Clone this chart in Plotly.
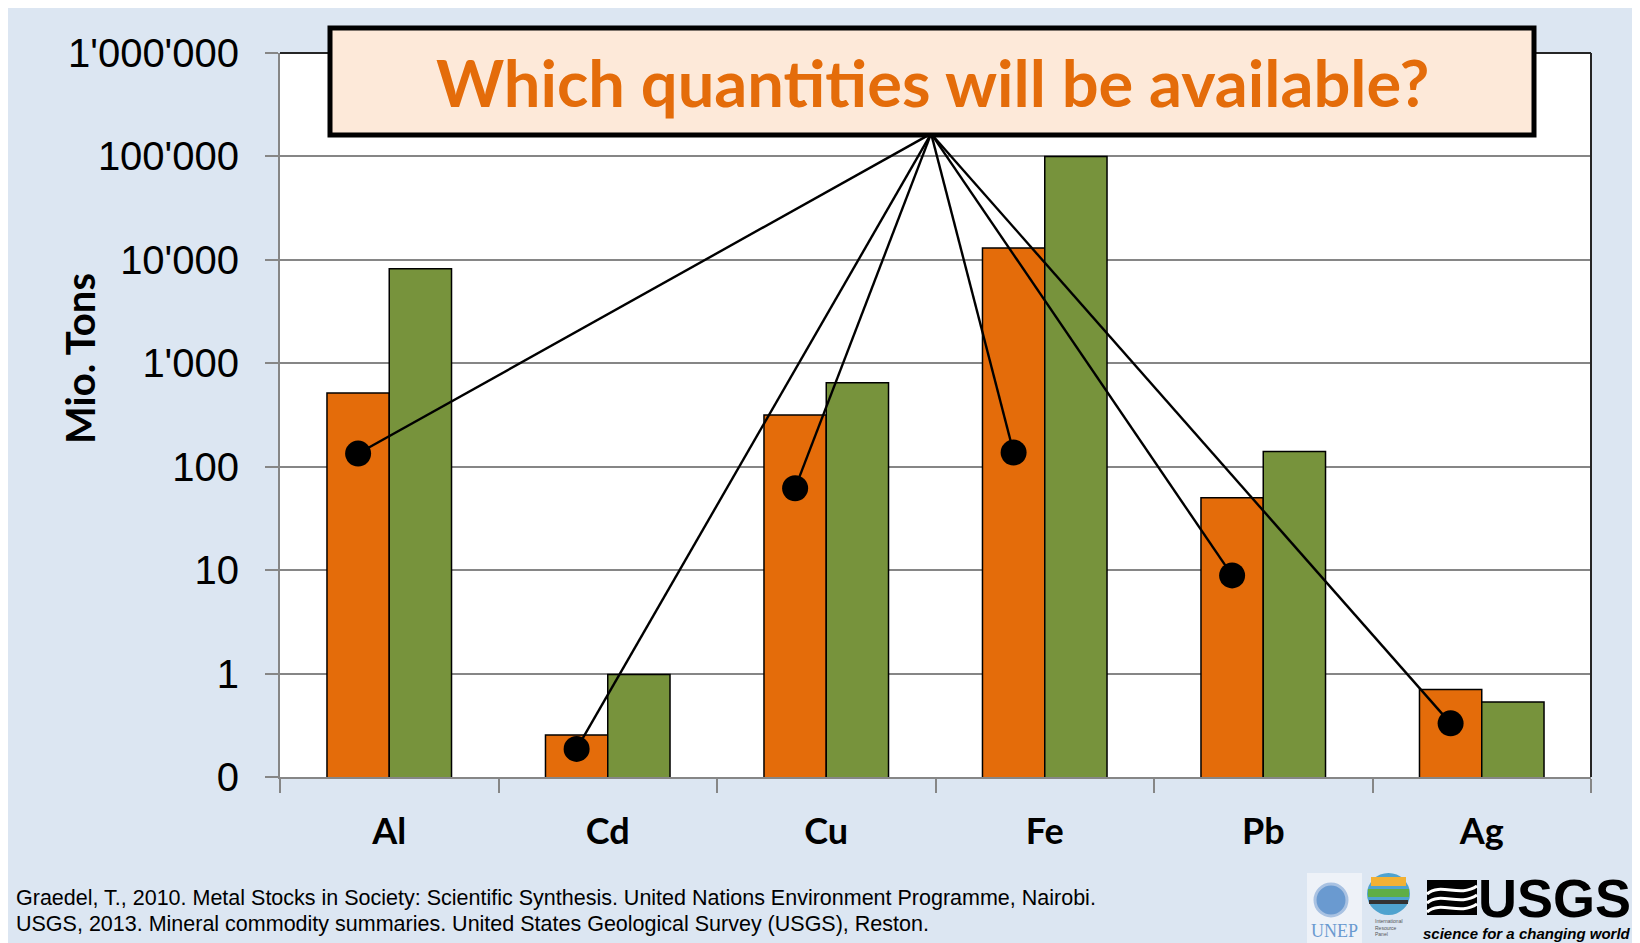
import plotly.graph_objects as go

# Metal stocks in use vs. reserves/resources (Mio. tons, log scale)
metals = ["Al", "Cd", "Cu", "Fe", "Pb", "Ag"]
orange_vals = [515, 0.255, 316, 13000, 50, 0.70]
green_vals = [8200, 0.98, 650, 100000, 140, 0.53]
dot_vals = [134, 0.187, 62, 137, 8.9, 0.33]

tick_vals = [0.1, 1, 10, 100, 1000, 10000, 100000, 1000000]
tick_text = ["0", "1", "10", "100", "1'000", "10'000", "100'000", "1'000'000"]

ORANGE = "#E46C0A"
GREEN = "#77933C"
GRID = "#868686"

W, H = 1640, 943
L, R, T, B = 272, 57, 45, 174
OFF = 8  # page body margin
BARGAP = 0.43


def px(x):
    """Screen pixel x -> paper x."""
    return (x - OFF - L) / (W - L - R)


def py(y):
    """Screen pixel y -> paper y."""
    return (H - B - (y - OFF)) / (H - T - B)


xs = list(range(len(metals)))
dot_x = [i - (1 - BARGAP) / 4 for i in xs]

# apex of the pointer lines: bottom centre of the question box
apex_x, apex_y = 2.48, 10 ** 5.22
line_x, line_y = [], []
for x, v in zip(dot_x, dot_vals):
    line_x += [apex_x, x, None]
    line_y += [apex_y, v, None]

fig = go.Figure()

fig.add_trace(go.Bar(
    x=xs, y=orange_vals, marker_color=ORANGE,
    marker_line=dict(color="black", width=1.5), showlegend=False,
))
fig.add_trace(go.Bar(
    x=xs, y=green_vals, marker_color=GREEN,
    marker_line=dict(color="black", width=1.5), showlegend=False,
))
fig.add_trace(go.Scatter(
    x=line_x, y=line_y, mode="lines",
    line=dict(color="black", width=2.4), showlegend=False, hoverinfo="skip",
))
fig.add_trace(go.Scatter(
    x=dot_x, y=dot_vals, mode="markers",
    marker=dict(color="black", size=26), showlegend=False,
))


def prect(x0, x1, y0, y1, **kw):
    return dict(type="rect", xref="paper", yref="paper",
                x0=px(x0), x1=px(x1), y0=py(y1), y1=py(y0), **kw)


shapes = [
    # dark top / right frame of plot area
    dict(type="line", xref="paper", yref="paper", x0=0, x1=1, y0=1, y1=1,
         line=dict(color="#262626", width=2)),
    dict(type="line", xref="paper", yref="paper", x0=1, x1=1, y0=0, y1=1,
         line=dict(color="#262626", width=2)),
    # question box
    prect(330, 1534, 28, 135, fillcolor="#FDE9D9", line=dict(color="black", width=5), layer="above"),
]

# rough logos: UNEP emblem, IRP globe, USGS mark
shapes += [
    prect(1307, 1362, 873, 943, fillcolor="#EEF2F8", line_width=0),
    dict(type="circle", xref="paper", yref="paper", x0=px(1315), x1=px(1347), y0=py(916), y1=py(884),
         fillcolor="#6A9AD0", line=dict(color="#A9C2E2", width=3)),
    dict(type="circle", xref="paper", yref="paper", x0=px(1367), x1=px(1410), y0=py(915), y1=py(873),
         fillcolor="#4FA3CF", line_width=0),
    prect(1371, 1406, 877, 886, fillcolor="#F2B134", line_width=0),
    prect(1368, 1409, 889, 897, fillcolor="#5FAE45", line_width=0),
    prect(1369, 1408, 900, 904, fillcolor="#333333", line_width=0),
    prect(1427, 1477, 880, 915, fillcolor="black", line_width=0),
]
for k in range(3):
    y0 = 888 + k * 9
    shapes.append(dict(
        type="path", xref="paper", yref="paper",
        path=(f"M {px(1427)},{py(y0 + 6)} C {px(1441)},{py(y0 - 6)} "
              f"{px(1459)},{py(y0 + 10)} {px(1477)},{py(y0 - 2)}"),
        line=dict(color="white", width=3),
    ))


def note(text, x, y, size, family, color="black", **kw):
    return dict(text=text, xref="paper", yref="paper", x=px(x), y=py(y),
                xanchor=kw.pop("xanchor", "center"), yanchor="middle", showarrow=False,
                font=dict(family=family, size=size, color=color), **kw)


SANS = "Liberation Sans, Arial, sans-serif"
CAL = "Lato, Open Sans, sans-serif"

annotations = [
    note("<b>Which quantities will be available?</b>", 932, 82, 65, CAL, ORANGE),
    note("<b>Mio. Tons</b>", 80, 359, 40, CAL, textangle=-90),
    note("Graedel, T., 2010. Metal Stocks in Society: Scientific Synthesis. "
         "United Nations Environment Programme, Nairobi.", 14, 898, 21.5, SANS,
         xanchor="left"),
    note("USGS, 2013. Mineral commodity summaries. United States Geological "
         "Survey (USGS), Reston.", 14, 924, 21.5, SANS, xanchor="left"),
    note("<b>USGS</b>", 1554, 898, 54, SANS),
    note("<b><i>science for a changing world</i></b>", 1527, 933, 15, SANS),
    note("UNEP", 1334, 931, 18, "Liberation Serif, serif", "#6A9AD0"),
    note("International<br>Resource<br>Panel", 1389, 927, 5, SANS, "#555555", align="left"),
]

fig.update_layout(
    width=W, height=H,
    margin=dict(l=L, r=R, t=T, b=B),
    paper_bgcolor="#DCE6F2",
    plot_bgcolor="white",
    barmode="group",
    bargap=BARGAP,
    bargroupgap=0,
    shapes=shapes,
    annotations=annotations,
    showlegend=False,
)

fig.update_xaxes(
    range=[-0.5, 5.5],
    tickmode="array", tickvals=xs, ticktext=[f"<b>{m}</b>" for m in metals],
    ticks="", ticklabelstandoff=22,
    tickfont=dict(family=CAL, size=36, color="black"),
    showline=True, linecolor=GRID, linewidth=2,
    showgrid=False, zeroline=False,
    minor=dict(tickmode="array", tickvals=[i - 0.5 for i in range(len(metals) + 1)],
               ticks="outside", ticklen=14, tickwidth=2, tickcolor=GRID, showgrid=False),
)

fig.update_yaxes(
    type="log", range=[-1, 6],
    tickmode="array", tickvals=tick_vals, ticktext=tick_text,
    ticks="outside", ticklen=13, tickwidth=2, tickcolor=GRID, ticklabelstandoff=18,
    tickfont=dict(family=SANS, size=40, color="black"),
    showline=True, linecolor=GRID, linewidth=2,
    showgrid=True, gridcolor=GRID, gridwidth=2,
    zeroline=False,
)

fig.write_html("out.html")
